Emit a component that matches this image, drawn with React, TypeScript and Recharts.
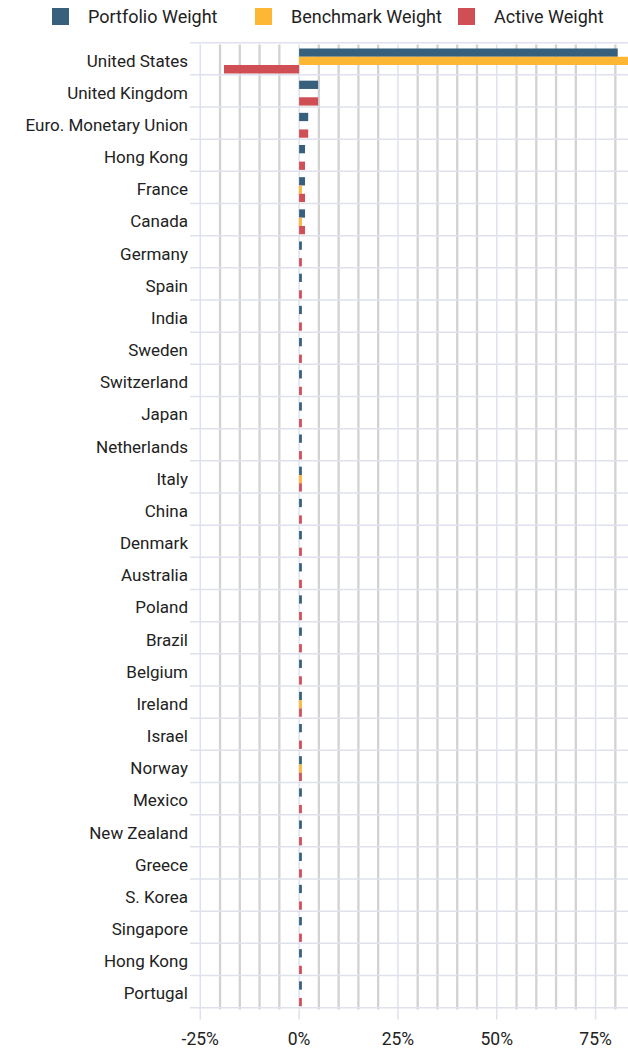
import { BarChart, Bar, XAxis, YAxis, CartesianGrid, Legend } from "recharts";

const countries = [
  "United States", "United Kingdom", "Euro. Monetary Union", "Hong Kong", "France",
  "Canada", "Germany", "Spain", "India", "Sweden", "Switzerland", "Japan",
  "Netherlands", "Italy", "China", "Denmark", "Australia", "Poland", "Brazil",
  "Belgium", "Ireland", "Israel", "Norway", "Mexico", "New Zealand", "Greece",
  "S. Korea", "Singapore", "Hong Kong", "Portugal",
];

const portfolioWeight = [
  80.6, 4.8, 2.3, 1.5, 1.5, 1.5, 0.7, 0.7, 0.7, 0.7, 0.7, 0.7, 0.7, 0.7, 0.7,
  0.7, 0.7, 0.7, 0.7, 0.7, 0.7, 0.7, 0.7, 0.7, 0.7, 0.7, 0.7, 0.7, 0.7, 0.7,
];
const benchmarkWeight = [
  99.6, 0, 0, 0, 0.7, 0.7, 0, 0, 0, 0, 0, 0, 0, 0.7, 0,
  0, 0, 0, 0, 0, 0.7, 0, 0.7, 0, 0, 0, 0, 0, 0, 0,
];
const activeWeight = [
  -19.0, 4.8, 2.3, 1.5, 1.5, 1.5, 0.7, 0.7, 0.7, 0.7, 0.7, 0.7, 0.7, 0.7, 0.7,
  0.7, 0.7, 0.7, 0.7, 0.7, 0.7, 0.7, 0.7, 0.7, 0.7, 0.7, 0.7, 0.7, 0.7, 0.7,
];

const xTicks = [-25, 0, 25, 50, 75];
const minorGrid = [-20, -15, -10, -5, 5, 10, 15, 20, 30, 35, 40, 45, 55, 60, 65, 70, 80];

const series = [
  { key: "portfolio", name: "Portfolio Weight", color: "#37607d" },
  { key: "benchmark", name: "Benchmark Weight", color: "#fdb735" },
  { key: "active", name: "Active Weight", color: "#d04f55" },
];

const data = countries.map((country, i) => ({
  country,
  portfolio: portfolioWeight[i],
  benchmark: benchmarkWeight[i],
  active: activeWeight[i],
}));

const LIGHT = "#dfe2ec";
const GRAY = "#d2d2d2";

const scaleOf = (axis: any) => (v: number) =>
  typeof axis.scale === "function" ? axis.scale(v) : axis.scale.map(v);

function LegendBox() {
  return (
    <div style={{ display: "flex", paddingLeft: 52, paddingTop: 8, whiteSpace: "nowrap" }}>
      {series.map((s) => (
        <div
          key={s.key}
          style={{ width: 203, flexShrink: 0, display: "flex", alignItems: "center" }}
        >
          <span style={{ width: 17, height: 17, flexShrink: 0, background: s.color, marginRight: 19 }} />
          <span style={{ fontSize: 18, color: "#222", lineHeight: "17px" }}>{s.name}</span>
        </div>
      ))}
    </div>
  );
}

export default function App() {
  return (
    <div style={{ position: "absolute", left: 0, top: 0, fontFamily: "Roboto" }}>
      <BarChart
        width={628}
        height={1049}
        data={data}
        layout="vertical"
        margin={{ top: 44.5, right: 0, bottom: 0, left: 0 }}
        barGap={0}
        barSize={8.3}
      >
        <CartesianGrid
          horizontal={false}
          stroke={GRAY}
          strokeWidth={2.3}
          verticalCoordinatesGenerator={({ xAxis }: any) => minorGrid.map(scaleOf(xAxis))}
        />
        <CartesianGrid
          stroke={LIGHT}
          strokeWidth={1.5}
          verticalCoordinatesGenerator={({ xAxis }: any) => xTicks.map(scaleOf(xAxis))}
          horizontalCoordinatesGenerator={({ offset }: any) => {
            const band = offset.height / countries.length;
            return Array.from({ length: countries.length + 1 }, (_, i) => offset.top + i * band - 1.8);
          }}
        />
        <XAxis
          type="number"
          domain={[-27.6, 83.2]}
          allowDataOverflow
          ticks={xTicks}
          tickFormatter={(v) => `${v}%`}
          axisLine={false}
          tickLine={{ stroke: LIGHT, strokeWidth: 1.5 }}
          tickSize={10}
          tickMargin={13}
          height={39.5}
          tick={{ fill: "#222", fontSize: 17.5 }}
        />
        <YAxis
          type="category"
          dataKey="country"
          width={190}
          axisLine={false}
          tickLine={false}
          tickSize={0}
          tickMargin={2}
          interval={0}
          tick={{ fill: "#222", fontSize: 17 }}
        />
        <Legend
          verticalAlign="middle"
          layout="horizontal"
          wrapperStyle={{ top: 0, left: 0, width: 628 }}
          content={() => <LegendBox />}
        />
        {series.map((s) => (
          <Bar key={s.key} dataKey={s.key} name={s.name} fill={s.color} isAnimationActive={false} />
        ))}
      </BarChart>
    </div>
  );
}
